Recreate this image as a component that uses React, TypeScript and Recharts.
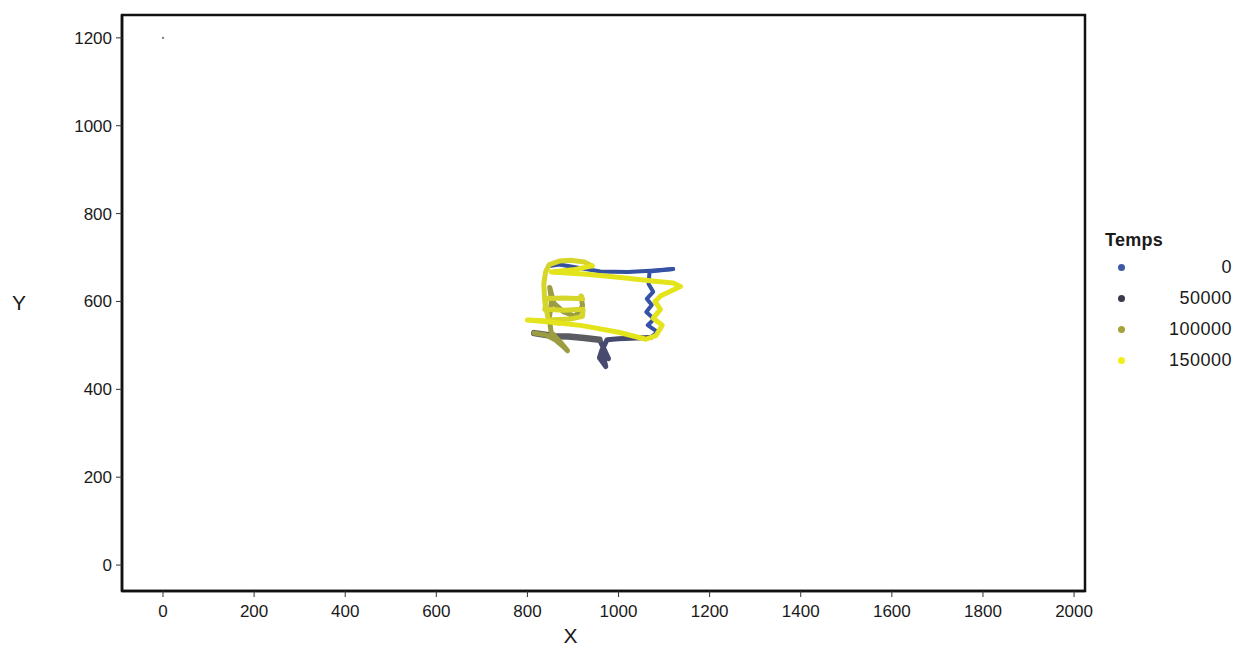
import React from "react";
import {
  ComposedChart,
  Line,
  Scatter,
  XAxis,
  YAxis,
  CartesianGrid,
  ReferenceArea,
} from "recharts";

// ---- data ----
const xTicks = [0, 200, 400, 600, 800, 1000, 1200, 1400, 1600, 1800, 2000];
const yTicks = [0, 200, 400, 600, 800, 1000, 1200];
const xDomain = [-90, 2024];
const yDomain = [-59, 1252];

const legendLabels = ["0", "50000", "100000", "150000"];
const legendColors = ["#3d5aa8", "#3a3a4a", "#a3a33a", "#f0f01c"];

const startPoint = [{ x: 0, y: 1200 }];

// trajectory pieces in time order (Temps ~0 -> ~150000)
const segBlueTop = [
  { x: 845, y: 680 }, { x: 870, y: 684 }, { x: 905, y: 678 }, { x: 960, y: 668 },
  { x: 1020, y: 667 }, { x: 1070, y: 670 }, { x: 1120, y: 674 },
];
const segBlueRight = [
  { x: 1120, y: 674 }, { x: 1068, y: 668 }, { x: 1066, y: 640 }, { x: 1076, y: 622 },
  { x: 1062, y: 606 }, { x: 1073, y: 592 }, { x: 1061, y: 576 }, { x: 1078, y: 560 },
  { x: 1064, y: 546 }, { x: 1086, y: 530 }, { x: 1070, y: 518 },
];
const segBlueGray = [
  { x: 1070, y: 518 }, { x: 1040, y: 517 }, { x: 1000, y: 515 }, { x: 975, y: 513 },
  { x: 963, y: 488 }, { x: 958, y: 472 }, { x: 972, y: 452 }, { x: 966, y: 478 },
  { x: 978, y: 470 }, { x: 968, y: 492 }, { x: 958, y: 513 },
];
const segGray = [
  { x: 958, y: 513 }, { x: 925, y: 517 }, { x: 890, y: 520 }, { x: 860, y: 521 },
  { x: 835, y: 525 }, { x: 815, y: 528 },
];
const segOlive = [
  { x: 815, y: 528 }, { x: 840, y: 524 }, { x: 862, y: 512 }, { x: 878, y: 498 },
  { x: 888, y: 488 }, { x: 872, y: 508 }, { x: 852, y: 530 }, { x: 848, y: 562 },
  { x: 853, y: 600 }, { x: 849, y: 632 }, { x: 858, y: 596 }, { x: 880, y: 576 },
  { x: 905, y: 566 }, { x: 921, y: 590 }, { x: 918, y: 612 },
];
const segYellowA = [
  { x: 918, y: 612 }, { x: 921, y: 606 }, { x: 880, y: 608 }, { x: 842, y: 607 },
  { x: 838, y: 582 }, { x: 880, y: 580 }, { x: 922, y: 582 }, { x: 921, y: 566 },
  { x: 895, y: 560 }, { x: 846, y: 558 }, { x: 838, y: 600 }, { x: 836, y: 640 },
  { x: 840, y: 668 }, { x: 848, y: 684 }, { x: 870, y: 692 }, { x: 895, y: 694 },
  { x: 925, y: 690 }, { x: 942, y: 681 },
];
const segYellowB = [
  { x: 942, y: 681 }, { x: 900, y: 672 }, { x: 852, y: 667 }, { x: 930, y: 662 },
  { x: 1010, y: 654 }, { x: 1080, y: 646 }, { x: 1120, y: 642 }, { x: 1136, y: 634 },
  { x: 1093, y: 613 }, { x: 1080, y: 600 }, { x: 1092, y: 582 }, { x: 1076, y: 562 },
  { x: 1096, y: 546 }, { x: 1082, y: 522 }, { x: 1060, y: 514 }, { x: 1000, y: 530 },
  { x: 920, y: 545 }, { x: 860, y: 552 }, { x: 800, y: 558 }, { x: 835, y: 556 },
  { x: 870, y: 550 },
];

const segments = [
  { data: segBlueTop, color: "#34509f", width: 4 },
  { data: segBlueRight, color: "#3552a6", width: 4 },
  { data: segBlueGray, color: "#474a6e", width: 5 },
  { data: segGray, color: "#5b5b62", width: 6.5 },
  { data: segOlive, color: "#9c9c42", width: 5 },
  { data: segYellowA, color: "#d6d62a", width: 5 },
  { data: segYellowB, color: "#e4e41c", width: 5 },
];

const FONT = "'Liberation Sans', Arial, Helvetica, sans-serif";

export default function App() {
  return (
    <div style={{ position: "absolute", left: 0, top: 0, width: 1239, height: 646, background: "#fff", fontFamily: FONT }}>
      <ComposedChart
        width={1239}
        height={646}
        margin={{ top: 15, right: 154, bottom: 0, left: 0 }}
      >
        <CartesianGrid stroke="#f3f3f3" strokeWidth={1} />
        <XAxis
          xAxisId="b"
          type="number"
          dataKey="x"
          domain={xDomain}
          ticks={xTicks}
          allowDataOverflow
          height={55}
          tickSize={6}
          tickMargin={8}
          axisLine={{ stroke: "#111", strokeWidth: 2.5 }}
          tickLine={{ stroke: "#333", strokeWidth: 1 }}
          tick={{ fill: "#1a1a1a", fontSize: 17, fontFamily: FONT }}
          label={{ value: "X", position: "insideBottom", offset: 3, dx: -33, fill: "#1a1a1a", fontSize: 21, fontFamily: FONT }}
        />
        <YAxis
          yAxisId="l"
          type="number"
          dataKey="y"
          domain={yDomain}
          ticks={yTicks}
          allowDataOverflow
          width={122}
          tickSize={6}
          tickMargin={4}
          axisLine={{ stroke: "#111", strokeWidth: 2.5 }}
          tickLine={{ stroke: "#333", strokeWidth: 1 }}
          tick={{ fill: "#1a1a1a", fontSize: 17, fontFamily: FONT }}
          label={{ value: "Y", position: "insideLeft", offset: 12, fill: "#1a1a1a", fontSize: 21, fontFamily: FONT }}
        />
        <ReferenceArea
          xAxisId="b"
          yAxisId="l"
          x1={xDomain[0]}
          x2={xDomain[1]}
          y1={yDomain[0]}
          y2={yDomain[1]}
          fill="none"
          fillOpacity={0}
          stroke="#111"
          strokeWidth={2.5}
          ifOverflow="visible"
        />
        {segments.map((s, i) => (
          <Line
            key={i}
            xAxisId="b"
            yAxisId="l"
            data={s.data}
            dataKey="y"
            type="linear"
            stroke={s.color}
            strokeWidth={s.width}
            strokeLinecap="round"
            strokeLinejoin="round"
            dot={false}
            activeDot={false}
            isAnimationActive={false}
          />
        ))}
        <Scatter
          xAxisId="b"
          yAxisId="l"
          data={startPoint}
          dataKey="y"
          fill="#7a7f9a"
          shape={(p: any) => <circle cx={p.cx} cy={p.cy} r={1.2} fill="#7a7f9a" />}
          isAnimationActive={false}
        />
      </ComposedChart>
      <div style={{ position: "absolute", left: 1105, top: 228, width: 130, fontFamily: FONT, color: "#1a1a1a" }}>
        <div style={{ fontWeight: "bold", fontSize: 18, lineHeight: "24px", letterSpacing: 0.3 }}>Temps</div>
        {legendLabels.map((l, i) => (
          <div key={l} style={{ position: "relative", height: 31, lineHeight: "31px", fontSize: 18 }}>
            <span
              style={{
                position: "absolute",
                left: 13,
                top: 12,
                width: 7,
                height: 7,
                borderRadius: 4,
                background: legendColors[i],
              }}
            />
            <span style={{ position: "absolute", right: 3, top: 0, letterSpacing: 0.5 }}>{l}</span>
          </div>
        ))}
      </div>
    </div>
  );
}
